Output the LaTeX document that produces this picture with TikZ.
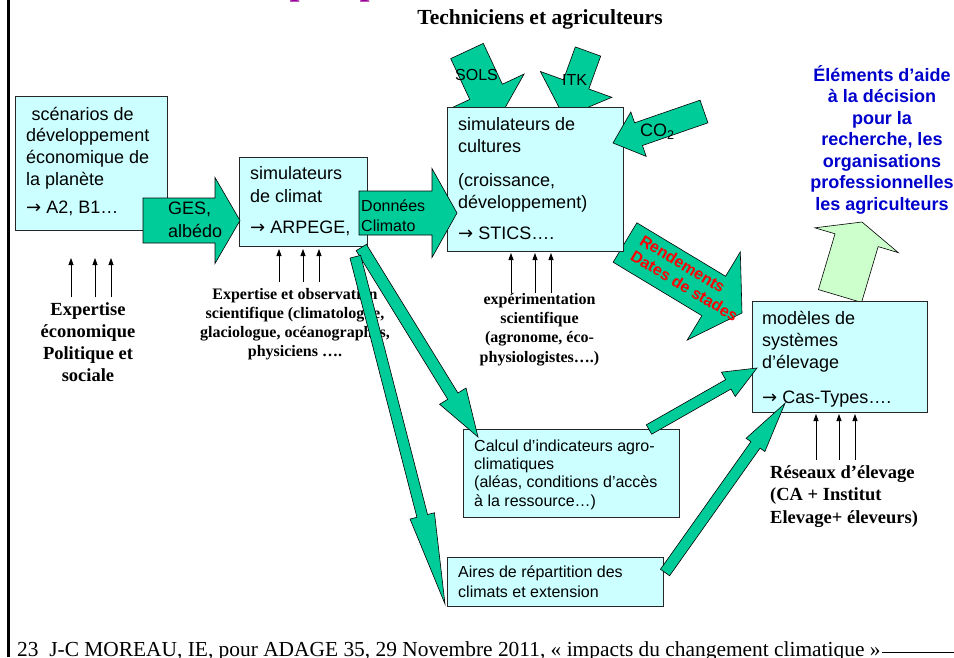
\documentclass[tikz,border=0pt]{standalone}
\usepackage{fontspec}
\setmainfont{Liberation Sans}
\newfontfamily\tms{Liberation Serif}
\newfontfamily\dvs{DejaVu Sans}
\usetikzlibrary{calc,arrows.meta}
\definecolor{boxcyan}{HTML}{CCFFFF}
\definecolor{agreen}{HTML}{00CC99}
\definecolor{lgreen}{HTML}{CCFFCC}
\definecolor{ablue}{HTML}{0000CC}
\definecolor{apurple}{HTML}{990099}
\newcommand{\fs}[2]{\fontsize{#1}{#2}\selectfont}
\newcommand{\rarr}{{\dvs →}}
% block arrow: [style] {tail} {tip} {shaft half width} {head half width} {head length}
\newcommand{\barrow}[6][]{%
  \coordinate (tmpS) at ($(#3)!#6pt!(#2)$);
  \draw[blockarrow,#1] ($(#2)!#4pt!90:(#3)$) -- ($(tmpS)!#4pt!-90:(#2)$) -- ($(tmpS)!#5pt!-90:(#2)$) -- (#3)
    -- ($(tmpS)!#5pt!90:(#2)$) -- ($(tmpS)!#4pt!90:(#2)$) -- ($(#2)!#4pt!-90:(#3)$) -- cycle;
}
\begin{document}
\begin{tikzpicture}[x=1pt,y=-1pt,
  box/.style={draw=black!85, line width=0.9pt, fill=boxcyan, inner sep=0, anchor=north west},
  blockarrow/.style={draw=black, line width=0.6pt, fill=agreen, line join=miter},
  lbl/.style={inner sep=0, anchor=base west},
  ctr/.style={inner sep=0, anchor=base},
  thinarr/.style={line width=0.8pt, -{Triangle[length=7pt,width=5pt]}},
]
\useasboundingbox (0,0) rectangle (954,657);
\fill[white] (0,0) rectangle (954,657);

% frame and title fragments
\draw[line width=2.5pt] (8.5,0) -- (8.5,657);
\begin{scope}
\clip (0,0) rectangle (954,657);
\node[lbl, font=\tms\bfseries\fs{36}{40}, text=apurple] (ttla) at (289.5,-6) {p};
\node[lbl, font=\tms\bfseries\fs{36}{40}, text=apurple] (ttlb) at (359.5,-6) {p};
\node[lbl, font=\tms\fs{21.4}{24}] (foot) at (17,656) {23\ \ J-C MOREAU, IE, pour ADAGE 35, 29 Novembre 2011, « impacts du changement climatique »};
\end{scope}
\draw[line width=1pt] (882,652) -- (954,652);

\node[ctr, font=\tms\bfseries\fs{21.5}{24}] (tech) at (540,24) {Techniciens et agriculteurs};

% arrows behind the crop box
\coordinate (solsA) at (467,51); \coordinate (solsB) at (498.7,119);
\coordinate (itkA) at (588,51.5); \coordinate (itkB) at (564.2,117.3);
\coordinate (rendA) at (625,242.5); \coordinate (rendB) at (742,313);
\barrow{solsA}{solsB}{18}{42}{30}
\barrow{itkA}{itkB}{13.5}{38}{35}
\barrow{rendA}{rendB}{23}{51.5}{33}
\node[rotate=-31, font=\bfseries\fs{16}{18}, text=red, inner sep=0] (rendtxt) at (688,280)
  {\begin{tabular}{@{}l@{}}Rendements\\Dates de stades\end{tabular}};
\node[lbl, font=\fs{16}{18}] (solstxt) at (455,80.7) {SOLS};
\node[lbl, font=\fs{16}{18}] (itktxt) at (562,85) {ITK};

% light green arrow
\coordinate (upA) at (840,296); \coordinate (upB) at (862,222);
\barrow[fill=lgreen]{upA}{upB}{22.5}{43.5}{19}

% boxes
\node[box, minimum width=152pt, minimum height=134pt] (scen) at (15,96) {};
\node[box, minimum width=128pt, minimum height=89pt] (clim) at (239,157) {};
\node[box, minimum width=176pt, minimum height=144pt] (cult) at (447,107) {};
\node[box, minimum width=175pt, minimum height=111pt] (elev) at (752,301) {};
\node[box, minimum width=216pt, minimum height=88pt] (calc) at (463,429) {};
\node[box, minimum width=216pt, minimum height=49pt] (aire) at (447,557) {};

\node[lbl, font=\fs{18}{21.7}] (scentxt) at (26,120) {\begin{tabular}[t]{@{}l@{}}\hspace*{5.5pt}scénarios de\\développement\\économique de\\la planète\\[6.3pt]\rarr\ A2, B1…\end{tabular}};
\node[lbl, font=\fs{18}{22.7}] (climtxt) at (250,179.5) {\begin{tabular}[t]{@{}l@{}}simulateurs\\de climat\\[9pt]\rarr\ ARPEGE,\end{tabular}};
\node[lbl, font=\fs{18}{22}] (culttxt) at (458,130) {\begin{tabular}[t]{@{}l@{}}simulateurs de\\cultures\\[12.5pt](croissance,\\développement)\\[9pt]\rarr\ STICS….\end{tabular}};
\node[lbl, font=\fs{18}{22}] (elevtxt) at (762,324.5) {\begin{tabular}[t]{@{}l@{}}modèles de\\systèmes\\d’élevage\\[13pt]\rarr\ Cas-Types….\end{tabular}};
\node[lbl, font=\fs{16}{18.4}] (calctxt) at (474,451) {\begin{tabular}[t]{@{}l@{}}Calcul d’indicateurs agro-\\climatiques\\(aléas, conditions d’accès\\à la ressource…)\end{tabular}};
\node[lbl, font=\fs{16}{20}] (airetxt) at (458,577.5) {\begin{tabular}[t]{@{}l@{}}Aires de répartition des\\climats et extension\end{tabular}};

% block arrows over boxes
\coordinate (gesA) at (143,220.5); \coordinate (gesB) at (240,220.5);
\coordinate (donA) at (359,213); \coordinate (donB) at (457,213);
\coordinate (coA) at (704,111.5); \coordinate (coB) at (613,143);
\barrow{gesA}{gesB}{22.5}{43}{25}
\barrow{donA}{donB}{22}{44.5}{25}
\barrow{coA}{coB}{12}{23.5}{27}
\node[lbl, font=\fs{18}{23}] (gestxt) at (168,214.5) {\begin{tabular}[t]{@{}l@{}}GES,\\albédo\end{tabular}};
\node[lbl, font=\fs{16}{20}] (dontxt) at (361,211.5) {\begin{tabular}[t]{@{}l@{}}Données\\Climato\end{tabular}};
\node[lbl, font=\fs{18}{20}] (cotxt) at (640,136.5) {CO\textsubscript{2}};

% blue text
\node[ctr, font=\bfseries\fs{18}{21.5}, text=ablue] (aide) at (882,81) {\begin{tabular}[t]{@{}c@{}}Éléments d’aide\\à la décision\\pour la\\recherche, les\\organisations\\professionnelles\\les agriculteurs\end{tabular}};

% expertise texts
\node[ctr, font=\tms\bfseries\fs{18.5}{22.3}] (expeco) at (88,315) {\begin{tabular}[t]{@{}c@{}}Expertise\\économique\\Politique et\\sociale\end{tabular}};
\node[ctr, font=\tms\bfseries\fs{16}{19}] (expobs) at (295,299) {\begin{tabular}[t]{@{}c@{}}Expertise et observation\\scientifique (climatologue,\\glaciologue, océanographes,\\physiciens ….\end{tabular}};
\node[ctr, font=\tms\bfseries\fs{16}{19.2}] (expagr) at (539.5,304.5) {\begin{tabular}[t]{@{}c@{}}expérimentation\\scientifique\\(agronome, éco-\\physiologistes….)\end{tabular}};
\node[lbl, font=\tms\bfseries\fs{18.5}{22.8}] (reseau) at (770,478) {\begin{tabular}[t]{@{}l@{}}Réseaux d’élevage\\(CA + Institut\\Elevage+ éleveurs)\end{tabular}};

% thin black arrows
\foreach \x in {71,95,111} \draw[thinarr] (\x,297) -- (\x,258);
\foreach \x in {279,303,319} \draw[thinarr] (\x,282) -- (\x,249);
\foreach \x in {511,535,551} \draw[thinarr] (\x,293) -- (\x,253);
\foreach \x in {816,839,855} \draw[thinarr] (\x,460) -- (\x,414);

% thin green arrows
\coordinate (a1A) at (361.3,247.5); \coordinate (a1B) at (478,437);
\coordinate (a2A) at (355.3,256.7); \coordinate (a2B) at (445,604);
\coordinate (a3A) at (649,429.5); \coordinate (a3B) at (757,368);
\coordinate (a4A) at (665,572.5); \coordinate (a4B) at (785,403.3);
\barrow{a1A}{a1B}{6}{15.5}{48}
\barrow{a2A}{a2B}{5.5}{12.6}{91}
\barrow{a3A}{a3B}{5.4}{14}{33}
\barrow{a4A}{a4B}{5.6}{11.5}{51}
\end{tikzpicture}
\end{document}
